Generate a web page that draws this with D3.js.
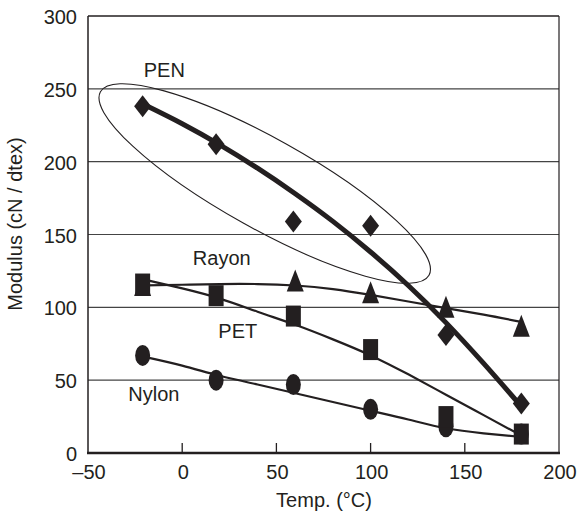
<!DOCTYPE html>
<html>
<head>
<meta charset="utf-8">
<script src="https://cdn.jsdelivr.net/npm/d3@7"></script>
<style>
  body { margin: 0; background: #fff; }
  text { font-family: "Liberation Sans", Arial, sans-serif; fill: #231f20; }
</style>
</head>
<body>
<svg id="chart" width="580" height="517"></svg>
<script>
// measured points
let temps = [-21, 18, 59, 100, 140, 180]
let rayonTemps = [-21, 60, 100, 140, 180]
let penValues = [238, 212, 159, 156, 81, 34]
let rayonValues = [115, 118, 110, 100, 87]
let petValues = [116, 108, 94, 71, 25, 13]
let nylonValues = [67, 50, 47, 30, 18, 13]

// fitted curves
let fitTemps = [-20, 0, 20, 40, 60, 80, 100, 120, 140, 160, 180]
let penFit = [239, 226, 211.5, 195.5, 178, 159, 138, 115, 89.5, 61.5, 32]
let rayonFit = [115, 115.5, 116, 116, 115, 112.5, 108.5, 104, 99.5, 95, 90]
let petFit = [119, 113, 106, 97, 88, 78, 67, 54, 40, 26, 12]
let nylonFit = [66, 60, 53, 47, 41, 35, 29, 23, 17, 13.5, 11]

// tick labels
let xTicks = [-50, 0, 50, 100, 150, 200]
let yTicks = [0, 50, 100, 150, 200, 250, 300]
let innerTicks = [0, 50, 100, 150]

// ellipse round PEN: two tips in data units
let ellipseTips = [[-43.4, 248], [131, 122]]

let svg = d3.select("#chart")
let ink = "#231f20"

let plotVars = ({
    left: 88,
    right: 559,
    top: 16,
    bottom: 453
})

let xScale = d3.scaleLinear().domain([-50, 200]).range([plotVars.left, plotVars.right])
let yScale = d3.scaleLinear().domain([0, 300]).range([plotVars.bottom, plotVars.top])

// gridlines
svg.append("g")
    .selectAll("line")
    .data(yTicks.filter(d => d > 0 && d < 300))
    .enter()
    .append("line")
    .attr("x1", plotVars.left)
    .attr("x2", plotVars.right)
    .attr("y1", d => yScale(d))
    .attr("y2", d => yScale(d))
    .attr("stroke", "#444")
    .attr("stroke-width", 1.2)

// frame
svg.append("line").attr("x1", plotVars.left).attr("x2", plotVars.right)
    .attr("y1", plotVars.top).attr("y2", plotVars.top)
    .attr("stroke", ink).attr("stroke-width", 1.5)
svg.append("line").attr("x1", plotVars.right).attr("x2", plotVars.right)
    .attr("y1", plotVars.top).attr("y2", plotVars.bottom)
    .attr("stroke", ink).attr("stroke-width", 1.2)
svg.append("line").attr("x1", plotVars.left).attr("x2", plotVars.left)
    .attr("y1", plotVars.top).attr("y2", plotVars.bottom)
    .attr("stroke", ink).attr("stroke-width", 1.5)
svg.append("line").attr("x1", plotVars.left - 1).attr("x2", plotVars.right + 1)
    .attr("y1", plotVars.bottom).attr("y2", plotVars.bottom)
    .attr("stroke", ink).attr("stroke-width", 2.5)

// inner ticks on x axis
svg.append("g")
    .selectAll("line")
    .data(innerTicks)
    .enter()
    .append("line")
    .attr("x1", d => xScale(d))
    .attr("x2", d => xScale(d))
    .attr("y1", plotVars.bottom)
    .attr("y2", plotVars.bottom - 10)
    .attr("stroke", ink)
    .attr("stroke-width", 1.3)

// tick labels
svg.append("g")
    .selectAll("text")
    .data(yTicks)
    .enter()
    .append("text")
    .attr("x", 77)
    .attr("y", d => yScale(d) + 1)
    .attr("dominant-baseline", "central")
    .attr("text-anchor", "end")
    .style("font-size", "20px")
    .text(d => d)

svg.append("g")
    .selectAll("text")
    .data(xTicks)
    .enter()
    .append("text")
    .attr("x", d => xScale(d) + 1)
    .attr("y", 479)
    .attr("text-anchor", "middle")
    .style("font-size", "20px")
    .text(d => d < 0 ? "\u2013" + Math.abs(d) : d)

// axis titles
svg.append("text")
    .attr("x", 324)
    .attr("y", 507)
    .attr("text-anchor", "middle")
    .style("font-size", "20px")
    .text("Temp. (°C)")

svg.append("text")
    .attr("transform", "translate(15,224) rotate(-90)")
    .attr("dominant-baseline", "central")
    .attr("text-anchor", "middle")
    .style("font-size", "20px")
    .text("Modulus (cN / dtex)")

// ellipse annotation
let p0 = [xScale(ellipseTips[0][0]), yScale(ellipseTips[0][1])]
let p1 = [xScale(ellipseTips[1][0]), yScale(ellipseTips[1][1])]
let cx = (p0[0] + p1[0]) / 2
let cy = (p0[1] + p1[1]) / 2
let ang = Math.atan2(p1[1] - p0[1], p1[0] - p0[0]) * 180 / Math.PI
let semi = Math.hypot(p1[0] - p0[0], p1[1] - p0[1]) / 2
svg.append("ellipse")
    .attr("transform", `translate(${cx},${cy}) rotate(${ang})`)
    .attr("rx", semi)
    .attr("ry", 45)
    .attr("fill", "none")
    .attr("stroke", ink)
    .attr("stroke-width", 1.1)

// fit lines
let line = d3.line()
    .x(d => xScale(d[0]))
    .y(d => yScale(d[1]))
    .curve(d3.curveNatural)

function addFit(values, width) {
    svg.append("path")
        .datum(fitTemps.map((t, i) => [t, values[i]]))
        .attr("d", line)
        .attr("fill", "none")
        .attr("stroke", ink)
        .attr("stroke-width", width)
}
addFit(nylonFit, 2.2)
addFit(petFit, 2.2)
addFit(rayonFit, 2.2)
addFit(penFit, 5)

// marker shapes (half width, half height)
let mw = 7.5, mh = 10.5
let shapes = {
    circle: () => `M${-mw},0A${mw},${mh} 0 1,0 ${mw},0A${mw},${mh} 0 1,0 ${-mw},0Z`,
    square: () => `M${-mw},${-mh}H${mw}V${mh}H${-mw}Z`,
    diamond: () => `M0,${-mh - 0.5}L${mw + 1},0L0,${mh + 0.5}L${-mw - 1},0Z`,
    triangle: () => `M0,${-mh - 1}L${mw + 1},${mh}L${-mw - 1},${mh}Z`
}

function addMarkers(xs, values, shape) {
    svg.append("g")
        .selectAll("path")
        .data(xs.map((t, i) => [t, values[i]]))
        .enter()
        .append("path")
        .attr("transform", d => `translate(${xScale(d[0])},${yScale(d[1])})`)
        .attr("d", shapes[shape])
        .attr("fill", ink)
}
addMarkers(rayonTemps, rayonValues, "triangle")
addMarkers(temps, nylonValues, "circle")
addMarkers(temps, petValues, "square")
addMarkers(temps, penValues, "diamond")

// series labels
let seriesLabels = [
    { name: "PEN", t: -9.5, v: 258 },
    { name: "Rayon", t: 21, v: 129 },
    { name: "PET", t: 29.5, v: 79 },
    { name: "Nylon", t: -15, v: 36 }
]
svg.append("g")
    .selectAll("text")
    .data(seriesLabels)
    .enter()
    .append("text")
    .attr("x", d => xScale(d.t))
    .attr("y", d => yScale(d.v))
    .attr("text-anchor", "middle")
    .style("font-size", "20px")
    .text(d => d.name)
</script>
</body>
</html>
